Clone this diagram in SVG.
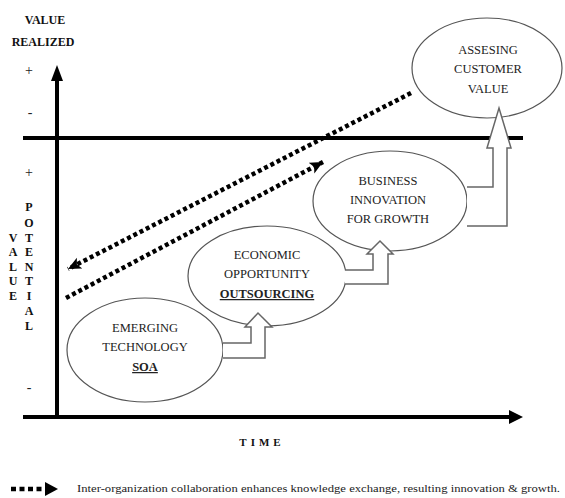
<svg xmlns="http://www.w3.org/2000/svg" width="565" height="498" viewBox="0 0 565 498">
<defs>
<style>
text{font-family:Liberation Serif, Tinos, DejaVu Serif, serif}
.t{font-size:12.5px;fill:#222;text-anchor:middle}
.s{font-size:14px;fill:#222;text-anchor:middle}
.b{font-weight:bold;fill:#111;text-anchor:middle}
.u{font-weight:bold;text-decoration:underline}
.el{fill:#fff;stroke:#555;stroke-width:1.2}
.blk{fill:#fff;stroke:#666;stroke-width:1.5;stroke-linejoin:miter}
.ax{stroke:#000;stroke-width:4;fill:none}
.dot{stroke:#000;stroke-width:4.5;stroke-dasharray:4 3;fill:none}
</style>
<marker id="dh" markerUnits="userSpaceOnUse" markerWidth="16" markerHeight="14" refX="13" refY="6" orient="auto">
<path d="M0,0 L13,6 L0,12 L3,6 Z" fill="#000"/>
</marker>
</defs>
<rect width="565" height="498" fill="#fff"/>

<g id="axes">
<line class="ax" x1="57" y1="78" x2="57" y2="419"/>
<polygon points="57,65 51,81 63,81" fill="#000"/>
<line class="ax" x1="23" y1="138" x2="523" y2="138"/>
<line class="ax" x1="23" y1="417" x2="512" y2="417"/>
<polygon points="523,417 509,410 509,424" fill="#000"/>
</g>

<g id="axis-labels">
<text class="b" x="45" y="24" font-size="12">VALUE</text>
<text class="b" x="43" y="46" font-size="12">REALIZED</text>
<text class="s" x="29" y="75">+</text>
<text class="s" x="30" y="117">-</text>
<text class="s" x="29" y="177">+</text>
<text class="s" x="29" y="392">-</text>
<g font-size="12">
<text class="b" x="29" y="211">P</text>
<text class="b" x="29" y="227">O</text>
<text class="b" x="29" y="242">T</text>
<text class="b" x="29" y="256">E</text>
<text class="b" x="29" y="271">N</text>
<text class="b" x="29" y="285">T</text>
<text class="b" x="29" y="300">I</text>
<text class="b" x="29" y="315">A</text>
<text class="b" x="29" y="330">L</text>
<text class="b" x="13" y="242">V</text>
<text class="b" x="13" y="256">A</text>
<text class="b" x="13" y="271">L</text>
<text class="b" x="13" y="285">U</text>
<text class="b" x="13" y="300">E</text>
</g>
<text class="b" x="262" y="446" font-size="11" letter-spacing="4">TIME</text>
</g>

<g id="connectors">
<line class="dot" x1="411" y1="93" x2="68" y2="269" marker-end="url(#dh)"/>
<line class="dot" x1="66" y1="298" x2="323" y2="162" marker-end="url(#dh)"/>
</g>

<g id="node-soa">
<ellipse class="el" cx="145" cy="350" rx="78" ry="52"/>
<text class="t" x="145" y="332">EMERGING</text>
<text class="t" x="145" y="351">TECHNOLOGY</text>
<text class="t u" x="145" y="371">SOA</text>
</g>

<g id="node-outsourcing">
<ellipse class="el" cx="267" cy="276" rx="79" ry="50"/>
<text class="t" x="267" y="259">ECONOMIC</text>
<text class="t" x="267" y="278">OPPORTUNITY</text>
<text class="t u" x="267" y="298">OUTSOURCING</text>
</g>

<g id="node-business">
<ellipse class="el" cx="390" cy="201" rx="77" ry="50"/>
<text class="t" x="388" y="185">BUSINESS</text>
<text class="t" x="388" y="204">INNOVATION</text>
<text class="t" x="388" y="223">FOR GROWTH</text>
</g>

<g id="node-customer">
<ellipse class="el" cx="487" cy="68" rx="75" ry="50"/>
<text class="t" x="488" y="54">ASSESING</text>
<text class="t" x="488" y="73">CUSTOMER</text>
<text class="t" x="488" y="93">VALUE</text>
</g>

<g id="step-arrows">
<path class="blk" d="M223,343 L251,343 L251,327 L245,327 L258,313 L272,327 L265,327 L265,358 L223,358"/>
<path class="blk" d="M345,270 L373,270 L373,254 L367,254 L380,241 L393,254 L388,254 L388,284 L345,284"/>
<path class="blk" d="M467,187 L493,187 L493,148 L487,148 L499,108 L511,148 L507,148 L507,226 L467,226"/>
</g>

<g id="legend">
<line stroke="#000" stroke-width="4.5" stroke-dasharray="5 3.5" x1="11" y1="489" x2="46" y2="489"/>
<polygon points="58,489 45,482 45,496" fill="#000"/>
<text x="77" y="492" font-size="10.5" fill="#222" textLength="483" lengthAdjust="spacingAndGlyphs">Inter-organization collaboration enhances knowledge exchange, resulting innovation &amp; growth.</text>
</g>
</svg>
